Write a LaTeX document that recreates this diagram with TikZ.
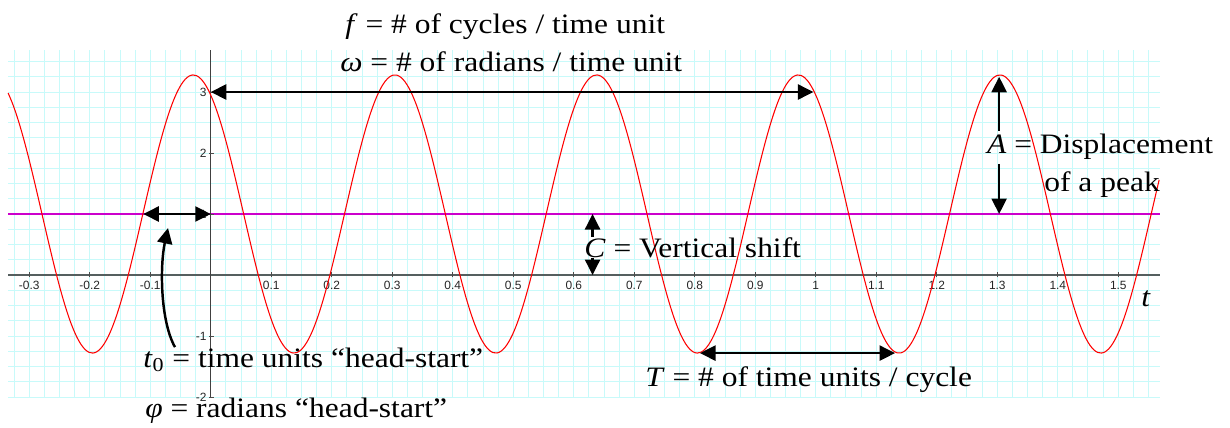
\documentclass[tikz,border=0pt]{standalone}
\usepackage{fontspec}
\setmainfont{Liberation Serif}[FakeStretch=1.12]
\newfontfamily\ticksans{Liberation Sans}
\usetikzlibrary{arrows.meta}
\definecolor{gridcyan}{RGB}{200,250,250}
\definecolor{axisgray}{RGB}{85,95,95}
\definecolor{midmagenta}{RGB}{204,0,204}
\tikzset{
    gridline/.style={draw=gridcyan, line width=0.5pt},
    xaxisline/.style={draw=axisgray, line width=0.95pt},
    yaxisline/.style={draw=black!75, line width=0.55pt},
    tickmark/.style={draw=black!70, line width=0.5pt},
    ticklab/.style={font=\ticksans\fontsize{6.8}{8}\selectfont,
                    text=black!85, inner sep=0pt},
    wave/.style={draw=red, line width=0.6pt},
    midline/.style={draw=midmagenta, line width=0.6pt},
    annot/.style={anchor=base west, inner sep=0pt,
                  font=\fontsize{16}{19}\selectfont},
    measure/.style={-{Triangle[length=0.31cm, width=0.30cm]}, line width=1.4pt},
    twoway/.style={measure, {Triangle[length=0.31cm, width=0.30cm]}-{Triangle[length=0.31cm, width=0.30cm]}},
}

\begin{document}
\begin{tikzpicture}[x=12.1cm, y=1.22cm]
    \useasboundingbox (-0.3484,-2.4918) rectangle (1.6846,4.5082);

    % graph paper
    \foreach \i in {-13,...,62}
        \draw[gridline] (\i*0.025,-2) -- (\i*0.025,3.69);
    \foreach \j in {-8,...,14}
        \draw[gridline] (-0.335,\j*0.25) -- (1.569,\j*0.25);

    \draw[midline] (-0.335,1) -- (1.569,1);
    \draw[xaxisline] (-0.335,0) -- (1.569,0);
    \draw[yaxisline] (0,-2) -- (0,3.69);

    % axis ticks
    \foreach \v in {-0.3,-0.2,-0.1,0.1,0.2,0.3,0.4,0.5,0.6,0.7,0.8,0.9,1,1.1,1.2,1.3,1.4,1.5} {
        \draw[tickmark] (\v,-0.038) -- (\v,0.054);
        \node[ticklab, below=0.11cm] at (\v,0) {\v};
    }
    \foreach \v in {3,2,1,-1,-2} {
        \draw[tickmark] (-0.0033,\v) -- (0.005,\v);
        \node[ticklab, left=0.08cm] at (0,\v) {\v};
    }

    \draw[wave, domain=-0.335:1.569, samples=300, smooth]
        plot (\x,{1+2.28*cos(1080*(\x+0.029))});

    \coordinate (yThree) at (0,3);
    \coordinate (fEnd) at (0.996,3);
    \coordinate (crossMid) at (-0.1115,1);
    \coordinate (yOne) at (0,1);
    \coordinate (peakA) at (1.303,3.25);
    \coordinate (midA) at (1.303,1);
    \coordinate (shiftTop) at (0.631,1);
    \coordinate (shiftBot) at (0.631,0);
    \coordinate (troughL) at (0.8086,-1.28);
    \coordinate (troughR) at (1.131,-1.28);
    \coordinate (startTail) at (-0.0592,-1.197);
    \coordinate (startTip) at (-0.0707,0.77);

    \node[annot] (freq) at (0.2218,3.951) {\textit{f} = \# of cycles / time unit};
    \node[annot] (angfreq) at (0.2136,3.344) {\textit{ω} = \# of radians / time unit};
    \node[annot, inner sep=2pt] (amp) at (1.2767,1.984) {\textit{A} = Displacement};
    \node[annot] (peakword) at (1.3772,1.377) {of a peak};
    \node[annot] (vshift) at (0.6169,0.295) {\textit{C} = Vertical shift};
    \node[annot] (headstart) at (-0.1121,-1.508) {\textit{t}\textsubscript{0} = time units ``head-start''};
    \node[annot] (radstart) at (-0.1088,-2.328) {\textit{φ} = radians ``head-start''};
    \node[annot] (period) at (0.7176,-1.820) {\textit{T} = \# of time units / cycle};
    \node[annot] (tvar) at (1.5375,-0.508) {\textit{t}};

    \draw[twoway] (yThree) -- (fEnd);
    \draw[twoway] (crossMid) -- (yOne);
    \draw[measure] (amp.north -| peakA) -- (peakA);
    \draw[measure] (amp.south -| midA) -- (midA);
    \draw[measure] (vshift.north -| shiftTop) -- (shiftTop);
    \draw[measure] (vshift.south -| shiftBot) -- (shiftBot);
    \draw[twoway] (troughL) -- (troughR);
    \draw[measure] (headstart.north -| startTail) .. controls (-0.0840,-0.738) and (-0.0840,0.164) .. (startTip);

\end{tikzpicture}
\end{document}
